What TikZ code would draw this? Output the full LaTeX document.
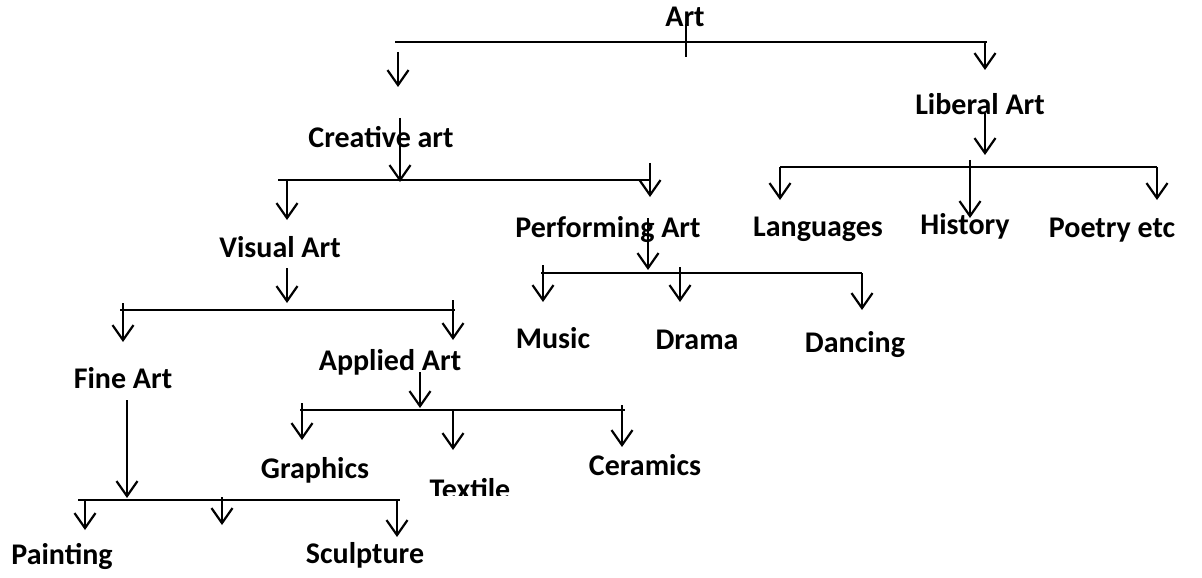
\documentclass[tikz,border=0pt]{standalone}
\usepackage{fontspec}
\setmainfont{Carlito}
\usetikzlibrary{arrows.meta}

\begin{document}
\begin{tikzpicture}[x=0.5pt, y=-0.5pt,
  term/.style={font=\fontsize{15}{18}\selectfont\bfseries, inner sep=0pt},
  bar/.style={line width=1.1pt},
  arrow/.style={line width=1.1pt, -{Straight Barb[length=7.5pt, width=10.5pt, line width=1.1pt]}}
]
  \useasboundingbox (0,0) rectangle (1202,577);

  % labels
  \node[term] (art)  at (685,17)  {Art};
  \node[term] (cre)  at (381,137) {Creative art};
  \node[term] (lib)  at (980,104) {Liberal Art};
  \node[term] (vis)  at (280,247) {Visual Art};
  \node[term] (perf) at (608,230) {Performing Art};
  \node[term] (lang) at (818,229) {Languages};
  \node[term] (hist) at (965,226) {History};
  \node[term] (poet) at (1112,230) {Poetry etc};
  \node[term] (mus)  at (553,338) {Music};
  \node[term] (dra)  at (697,340) {Drama};
  \node[term] (dan)  at (855,345) {Dancing};
  \node[term] (fine) at (123,378) {Fine Art};
  \node[term] (app)  at (390,362) {Applied Art};
  \node[term] (gra)  at (315,470) {Graphics};
  \begin{scope}
    \clip (420,470) rectangle (530,495);
    \node[term] (tex)  at (470,489) {Textile};
  \end{scope}
  \node[term] (cer)  at (645,465) {Ceramics};
  \node[term] (pai)  at (62,556)  {Painting};
  \node[term] (scu)  at (365,555) {Sculpture};

  % Art
  \coordinate (artL) at (395,42);  \coordinate (artR) at (987,42);
  \coordinate (artS) at (686,24);  \coordinate (artB) at (686,57);
  \coordinate (creT) at (398,52);  \coordinate (creH) at (398,87);
  \coordinate (libT) at (985,42);  \coordinate (libH) at (985,70);
  \draw[bar] (artL) -- (artR);
  \draw[bar] (artS) -- (artB);
  \draw[arrow] (creT) -- (creH);
  \draw[arrow] (libT) -- (libH);

  % Creative art
  \coordinate (creS) at (400,118); \coordinate (creB) at (400,182);
  \coordinate (creL) at (278,180); \coordinate (creR) at (650,180);
  \coordinate (visT) at (287,180); \coordinate (visH) at (287,220);
  \coordinate (perT) at (650,163); \coordinate (perH) at (650,197);
  \draw[bar] (creL) -- (creR);
  \draw[arrow] (creS) -- (creB);
  \draw[arrow] (visT) -- (visH);
  \draw[arrow] (perT) -- (perH);

  % Liberal Art
  \coordinate (libS) at (985,113); \coordinate (libB) at (985,155);
  \coordinate (libL) at (780,167); \coordinate (libR) at (1157,167);
  \coordinate (hisT) at (970,160); \coordinate (hisH) at (970,218);
  \coordinate (lanT) at (780,167); \coordinate (lanH) at (780,200);
  \coordinate (poeT) at (1157,167); \coordinate (poeH) at (1157,200);
  \draw[bar] (libL) -- (libR);
  \draw[arrow] (libS) -- (libB);
  \draw[arrow] (hisT) -- (hisH);
  \draw[arrow] (lanT) -- (lanH);
  \draw[arrow] (poeT) -- (poeH);

  % Performing Art
  \coordinate (perS) at (648,218); \coordinate (perB) at (648,270);
  \coordinate (perL) at (541,273); \coordinate (perR) at (862,273);
  \coordinate (musT) at (543,265); \coordinate (musH) at (543,302);
  \coordinate (draT) at (680,267); \coordinate (draH) at (680,302);
  \coordinate (danT) at (862,273); \coordinate (danH) at (862,310);
  \draw[bar] (perL) -- (perR);
  \draw[arrow] (perS) -- (perB);
  \draw[arrow] (musT) -- (musH);
  \draw[arrow] (draT) -- (draH);
  \draw[arrow] (danT) -- (danH);

  % Visual Art
  \coordinate (visS) at (287,268); \coordinate (visB) at (287,303);
  \coordinate (visL) at (120,310); \coordinate (visR) at (455,310);
  \coordinate (finT) at (123,303); \coordinate (finH) at (123,342);
  \coordinate (appT) at (453,300); \coordinate (appH) at (453,340);
  \draw[bar] (visL) -- (visR);
  \draw[arrow] (visS) -- (visB);
  \draw[arrow] (finT) -- (finH);
  \draw[arrow] (appT) -- (appH);

  % Applied Art
  \coordinate (appS) at (420,372); \coordinate (appB) at (420,408);
  \coordinate (appL) at (300,410); \coordinate (appR) at (625,410);
  \coordinate (graT) at (302,403); \coordinate (graH) at (302,440);
  \coordinate (texT) at (453,410); \coordinate (texH) at (453,450);
  \coordinate (cerT) at (622,405); \coordinate (cerH) at (622,447);
  \draw[bar] (appL) -- (appR);
  \draw[arrow] (appS) -- (appB);
  \draw[arrow] (graT) -- (graH);
  \draw[arrow] (texT) -- (texH);
  \draw[arrow] (cerT) -- (cerH);

  % Fine Art
  \coordinate (finS) at (127,400); \coordinate (finB) at (127,498);
  \coordinate (finL) at (78,500);  \coordinate (finR) at (400,500);
  \coordinate (paiT) at (85,500);  \coordinate (paiH) at (85,530);
  \coordinate (midT) at (222,497); \coordinate (midH) at (222,525);
  \coordinate (scuT) at (397,500); \coordinate (scuH) at (397,537);
  \draw[bar] (finL) -- (finR);
  \draw[arrow] (finS) -- (finB);
  \draw[arrow] (paiT) -- (paiH);
  \draw[arrow] (midT) -- (midH);
  \draw[arrow] (scuT) -- (scuH);
\end{tikzpicture}
\end{document}
